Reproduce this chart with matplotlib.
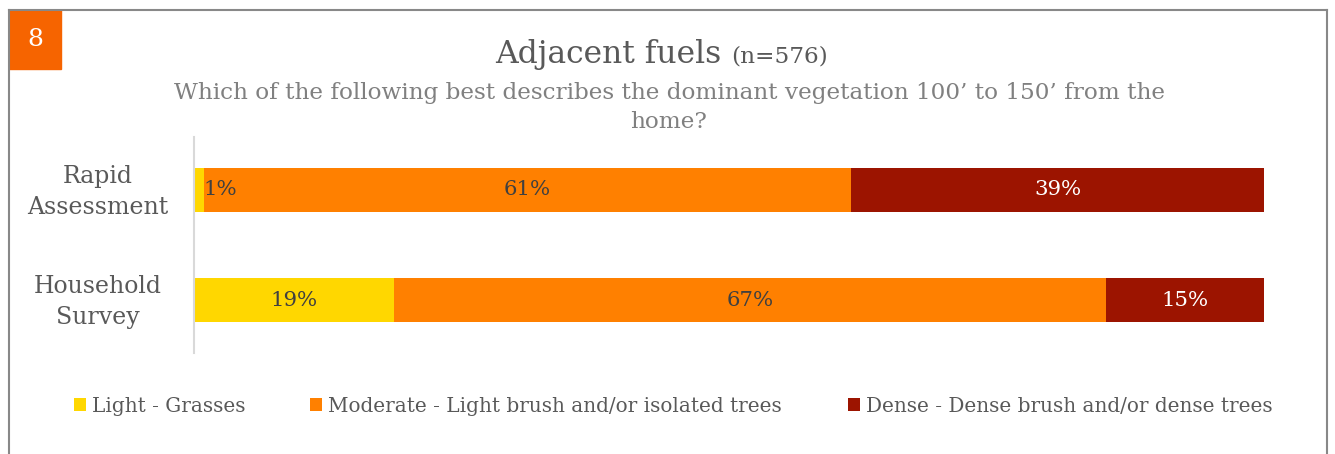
import matplotlib
matplotlib.use("Agg")
import matplotlib.pyplot as plt
from matplotlib.patches import Rectangle, Patch
from matplotlib.lines import Line2D
from matplotlib.transforms import blended_transform_factory

categories = ["Rapid\nAssessment", "Household\nSurvey"]
series_names = ["Light - Grasses",
                "Moderate - Light brush and/or isolated trees",
                "Dense - Dense brush and/or dense trees"]
light = [0.9, 18.7]
moderate = [60.5, 66.5]
dense = [38.6, 14.8]
colors = ["#FFD700", "#FF8000", "#9C1400"]
label_colors = ["#404040", "#404040", "#FFFFFF"]

W, H = 1335, 454
fig = plt.figure(figsize=(W / 100, H / 100), dpi=100)
serif = ["DejaVu Serif"]

def fx(px):
    return px / W

def fy(py):
    return 1 - py / H

ax = fig.add_axes([fx(194), fy(353), fx(1264) - fx(194), fy(137) - fy(353)])

series = [light, moderate, dense]
ypos = list(range(len(categories)))
left = [0.0] * len(categories)
for vals, col, lc in zip(series, colors, label_colors):
    ax.barh(ypos, vals, left=left, height=0.4, color=col, edgecolor="none")
    for i, v in enumerate(vals):
        txt = f"{int(v + 0.5)}%"
        if v < 3:
            ax.text(left[i] + v, ypos[i], txt, ha="left", va="center",
                    fontsize=15.3, color=lc, family=serif)
        else:
            ax.text(left[i] + v / 2, ypos[i], txt, ha="center", va="center",
                    fontsize=15.3, color=lc, family=serif)
    left = [l + v for l, v in zip(left, vals)]

ax.set_xlim(0, 100)
ax.set_ylim(1.48, -0.48)
ax.set_yticks(ypos)
ax.set_yticklabels([""] * len(categories))
ax.tick_params(axis="y", length=0, pad=0)
trans = blended_transform_factory(ax.transAxes, ax.transData)
for y, cat in zip(ypos, categories):
    ax.text(-0.0897, y + 0.015, cat, transform=trans, ha="center", va="center",
            fontsize=17, color="#595959", family=serif, linespacing=1.45)
ax.set_xticks([])
for s in ["top", "right", "bottom"]:
    ax.spines[s].set_visible(False)
ax.spines["left"].set_color("#D9D9D9")
ax.spines["left"].set_linewidth(1.5)

# frame
frame_col = "#888888"
fig.add_artist(Line2D([fx(9), fx(1327)], [fy(10), fy(10)], color=frame_col, lw=1.5))
fig.add_artist(Line2D([fx(9), fx(9)], [fy(10), 0], color=frame_col, lw=1.5))
fig.add_artist(Line2D([fx(1327), fx(1327)], [fy(10), 0], color=frame_col, lw=1.5))

# badge
fig.add_artist(Rectangle((fx(9), fy(69)), fx(61) - fx(9), fy(10) - fy(69),
                         color="#F66400", transform=fig.transFigure))
fig.text(fx(35), fy(40), "8", color="white", fontsize=18, ha="center", va="center",
         family=serif)

# titles
fig.text(fx(721), fy(55), "Adjacent fuels", color="#595959", fontsize=22.6,
         ha="right", va="center", family=serif)
fig.text(fx(731), fy(57), "(n=576)", color="#595959", fontsize=16.7,
         ha="left", va="center", family=serif)
fig.text(fx(669), fy(93), "Which of the following best describes the dominant vegetation 100\u2019 to 150\u2019 from the",
         color="#808080", fontsize=16.7, ha="center", va="center", family=serif)
fig.text(fx(669), fy(122), "home?", color="#808080", fontsize=16.7,
         ha="center", va="center", family=serif)

# legend: one entry per anchor, placed where the reference puts them
legend_x = [fx(70), fx(306), fx(844)]
for name, col, lx in zip(series_names, colors, legend_x):
    leg = fig.legend([Patch(facecolor=col, edgecolor="none")], [name],
                     loc="center left", bbox_to_anchor=(lx, fy(406)),
                     frameon=False, handlelength=0.6, handleheight=0.6,
                     handletextpad=0.3, borderpad=0.2, borderaxespad=0,
                     prop={"family": "DejaVu Serif", "size": 14.4})
    for t in leg.get_texts():
        t.set_color("#595959")

fig.savefig("out.png", dpi=100)
